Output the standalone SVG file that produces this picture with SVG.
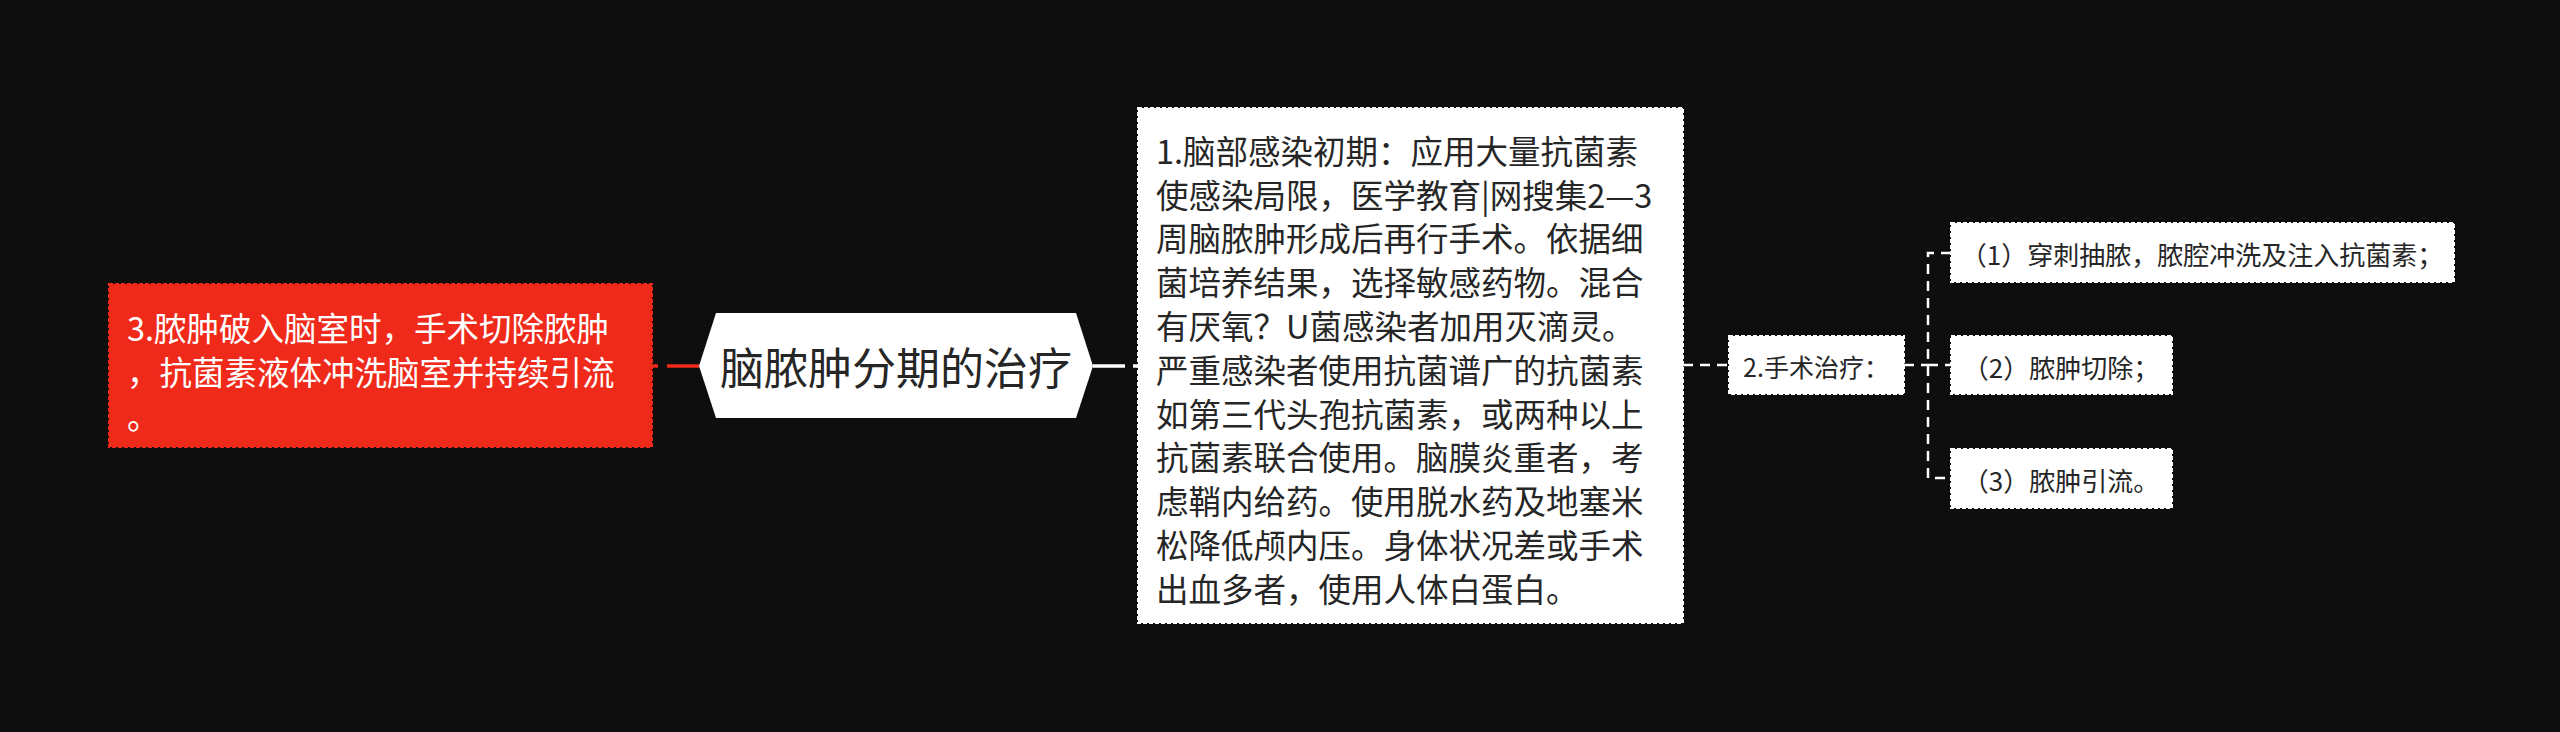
<svg xmlns="http://www.w3.org/2000/svg" width="2560" height="732" viewBox="0 0 2560 732">
  <style>
    text { font-family: "Noto Sans CJK SC", "Noto Sans", sans-serif; dominant-baseline: central; }
    .box { fill: #ffffff; stroke: #ffffff; stroke-width: 2; stroke-dasharray: 4 2; }
    .red { fill: #ef2a1b; stroke: #ef2a1b; stroke-width: 2; stroke-dasharray: 4 2; }
    .t32 { font-size: 32.5px; fill: #262626; }
    .w32 { font-size: 32.5px; fill: #ffffff; }
    .t25 { font-size: 25px; fill: #262626; text-anchor: middle; }
    .t26 { font-size: 26px; fill: #262626; text-anchor: middle; }
    .dash { fill: none; stroke: #ffffff; stroke-width: 2.5; stroke-dasharray: 10 7; }
  </style>
  <rect x="0" y="0" width="2560" height="732" fill="#0e0e0e"/>

  <g id="connectors">
    <line x1="699" y1="366" x2="652" y2="366" stroke="#ef2a1b" stroke-width="3.5" stroke-dasharray="32 9"/>
    <line x1="1093" y1="366" x2="1138" y2="366" stroke="#ffffff" stroke-width="3.5" stroke-dasharray="32 8"/>
    <line class="dash" x1="1683" y1="365" x2="1729" y2="365"/>
    <line class="dash" x1="1904" y1="365" x2="1928" y2="365"/>
    <path class="dash" d="M1951,253 H1928 V478 H1951"/>
    <line class="dash" x1="1928" y1="365" x2="1951" y2="365"/>
  </g>

  <g id="node-red">
    <rect class="red" x="109" y="284" width="543" height="163"/>
    <text class="w32" x="127" y="326">3.脓肿破入脑室时，手术切除脓肿</text>
    <text class="w32" x="127" y="370">，抗菌素液体冲洗脑室并持续引流</text>
    <text class="w32" x="127" y="414">。</text>
  </g>

  <g id="node-center">
    <polygon points="699,366 716,313 1076,313 1093,366 1076,418 716,418" fill="#ffffff"/>
    <text x="896" y="366" font-size="44" fill="#262626" text-anchor="middle">脑脓肿分期的治疗</text>
  </g>

  <g id="node-1">
    <rect class="box" x="1138" y="108" width="545" height="515"/>
    <text class="t32" x="1156" y="149">1.脑部感染初期：应用大量抗菌素</text>
    <text class="t32" x="1156" y="193">使感染局限，医学教育|网搜集2—3</text>
    <text class="t32" x="1156" y="236">周脑脓肿形成后再行手术。依据细</text>
    <text class="t32" x="1156" y="280">菌培养结果，选择敏感药物。混合</text>
    <text class="t32" x="1156" y="324">有厌氧？U菌感染者加用灭滴灵。</text>
    <text class="t32" x="1156" y="368">严重感染者使用抗菌谱广的抗菌素</text>
    <text class="t32" x="1156" y="412">如第三代头孢抗菌素，或两种以上</text>
    <text class="t32" x="1156" y="455">抗菌素联合使用。脑膜炎重者，考</text>
    <text class="t32" x="1156" y="499">虑鞘内给药。使用脱水药及地塞米</text>
    <text class="t32" x="1156" y="543">松降低颅内压。身体状况差或手术</text>
    <text class="t32" x="1156" y="587">出血多者，使用人体白蛋白。</text>
  </g>

  <g id="node-2">
    <rect class="box" x="1729" y="336" width="175" height="58"/>
    <text class="t25" x="1816" y="366">2.手术治疗：</text>
  </g>

  <g id="node-2-1">
    <rect class="box" x="1951" y="223" width="503" height="59"/>
    <text class="t26" x="2202" y="253">（1）穿刺抽脓，脓腔冲洗及注入抗菌素；</text>
  </g>

  <g id="node-2-2">
    <rect class="box" x="1951" y="336" width="221" height="58"/>
    <text class="t26" x="2061" y="366">（2）脓肿切除；</text>
  </g>

  <g id="node-2-3">
    <rect class="box" x="1951" y="449" width="221" height="59"/>
    <text class="t26" x="2061" y="479">（3）脓肿引流。</text>
  </g>
</svg>
